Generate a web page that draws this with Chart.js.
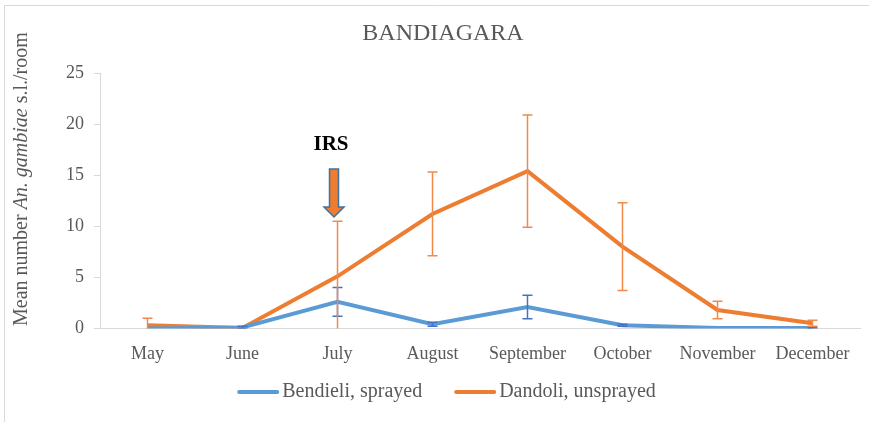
<!DOCTYPE html>
<html>
<head>
<meta charset="utf-8">
<script src="https://cdn.jsdelivr.net/npm/chart.js@4.4.1/dist/chart.umd.min.js"></script>
<style>
  html, body { margin: 0; padding: 0; background: #fff; }
  #wrap { position: relative; width: 869px; height: 422px; }
</style>
</head>
<body>
<div id="wrap"><canvas id="canvas" width="869" height="422"></canvas></div>
<script>
// months on the x axis
var months = ["May", "June", "July", "August", "September", "October", "November", "December"];

// mean number per room
var sprayed = [0.0, 0.1, 2.6, 0.4, 2.1, 0.3, 0.05, 0.05];
var unsprayed = [0.3, 0.05, 5.1, 11.2, 15.4, 8.0, 1.8, 0.5];

// error bar half-widths (+/-)
var sprayedErr = [0, 0.1, 1.4, 0.2, 1.15, 0.1, 0, 0.05];
var unsprayedErr = [0.7, 0, 5.4, 4.1, 5.5, 4.3, 0.85, 0.3];

var yTicks = [0, 5, 10, 15, 20, 25];

var serif = "'Liberation Serif', 'DejaVu Serif', serif";
var grey = "#595959";

// vertical error bars with caps
var errorBars = {
  id: 'errorBars',
  afterDatasetsDraw: function(chart) {
    var ctx = chart.ctx;
    var area = chart.chartArea;
    var x = chart.scales.x, y = chart.scales.y;
    ctx.save();
    ctx.beginPath();
    ctx.rect(area.left, area.top - 1, area.right - area.left, area.bottom - area.top + 1);
    ctx.clip();
    chart.data.datasets.forEach(function(ds) {
      ds.data.forEach(function(v, i) {
        var e = ds.errors[i];
        if (!e) return;
        var px = x.getPixelForValue(i);
        var top = y.getPixelForValue(v + e);
        var bot = y.getPixelForValue(v - e);
        ctx.strokeStyle = ds.errorColor;
        ctx.lineWidth = 1.5;
        ctx.beginPath();
        ctx.moveTo(px, top); ctx.lineTo(px, bot);
        ctx.moveTo(px - 5, top); ctx.lineTo(px + 5, top);
        ctx.moveTo(px - 5, bot); ctx.lineTo(px + 5, bot);
        ctx.stroke();
      });
    });
    ctx.restore();
  }
};

// frame, title, y-axis title (italic species name), legend and IRS arrow
var extras = {
  id: 'extras',
  beforeDraw: function(chart) {
    var ctx = chart.ctx;
    ctx.save();
    ctx.strokeStyle = "#d9d9d9";
    ctx.lineWidth = 1;
    ctx.beginPath();
    ctx.moveTo(4.5, chart.height);
    ctx.lineTo(4.5, 5.5);
    ctx.lineTo(chart.width, 5.5);
    ctx.stroke();
    ctx.restore();
  },
  afterDraw: function(chart) {
    var ctx = chart.ctx;
    var x = chart.scales.x, y = chart.scales.y;

    // title
    ctx.save();
    ctx.font = "24px " + serif;
    ctx.fillStyle = grey;
    ctx.textAlign = "center";
    ctx.textBaseline = "middle";
    ctx.fillText("BANDIAGARA", 443, 34);
    ctx.restore();

    // y-axis title
    var parts = [
      { t: "Mean number ", f: "20px " + serif },
      { t: "An. gambiae", f: "italic 20px " + serif },
      { t: " s.l./room", f: "20px " + serif }
    ];
    ctx.save();
    ctx.translate(27, 326);
    ctx.rotate(-Math.PI / 2);
    ctx.fillStyle = grey;
    ctx.textBaseline = "alphabetic";
    var pos = 0;
    parts.forEach(function(p) {
      ctx.font = p.f;
      ctx.fillText(p.t, pos, 0);
      pos += ctx.measureText(p.t).width;
    });
    ctx.restore();

    // legend
    ctx.save();
    ctx.font = "20px " + serif;
    ctx.textBaseline = "middle";
    var ly = 392, lineW = 42, gapText = 3, gapItem = 32;
    var items = chart.data.datasets.map(function(ds) {
      return { label: ds.label, color: ds.borderColor, w: lineW + gapText + ctx.measureText(ds.label).width };
    });
    var total = items.reduce(function(s, it) { return s + it.w; }, 0) + gapItem * (items.length - 1);
    var lx = 446.5 - total / 2;
    items.forEach(function(it) {
      ctx.strokeStyle = it.color;
      ctx.lineWidth = 4;
      ctx.lineCap = "round";
      ctx.beginPath();
      ctx.moveTo(lx + 2, ly); ctx.lineTo(lx + lineW - 2, ly);
      ctx.stroke();
      ctx.fillStyle = grey;
      ctx.fillText(it.label, lx + lineW + gapText, ly);
      lx += it.w + gapItem;
    });
    ctx.restore();

    // IRS arrow above July
    var ax = x.getPixelForValue(2) - 3.5;
    var tip = y.getPixelForValue(10.9);
    ctx.save();
    ctx.font = "bold 21px " + serif;
    ctx.fillStyle = "#000";
    ctx.textAlign = "center";
    ctx.textBaseline = "middle";
    ctx.fillText("IRS", ax - 3, tip - 72);
    ctx.beginPath();
    ctx.moveTo(ax - 4.5, tip - 48);
    ctx.lineTo(ax + 4.5, tip - 48);
    ctx.lineTo(ax + 4.5, tip - 10);
    ctx.lineTo(ax + 10, tip - 10);
    ctx.lineTo(ax, tip);
    ctx.lineTo(ax - 10, tip - 10);
    ctx.lineTo(ax - 4.5, tip - 10);
    ctx.closePath();
    ctx.fillStyle = "#ED7D31";
    ctx.fill();
    ctx.strokeStyle = "#41719C";
    ctx.lineWidth = 1.5;
    ctx.stroke();
    ctx.restore();
  }
};

var config = {
  type: 'line',
  data: {
    labels: months,
    datasets: [{
      label: "Bendieli, sprayed",
      data: sprayed,
      errors: sprayedErr,
      errorColor: "#4472C4",
      borderColor: "#5B9BD5",
      backgroundColor: "#5B9BD5",
      borderWidth: 4,
      pointRadius: 0,
      tension: 0
    }, {
      label: "Dandoli, unsprayed",
      data: unsprayed,
      errors: unsprayedErr,
      errorColor: "#F08A4B",
      borderColor: "#ED7D31",
      backgroundColor: "#ED7D31",
      borderWidth: 4,
      pointRadius: 0,
      tension: 0
    }]
  },
  options: {
    responsive: false,
    animation: false,
    layout: { padding: { left: 0, right: 9, top: 73, bottom: 42 } },
    plugins: {
      title: { display: false },
      legend: { display: false },
      tooltip: { enabled: false }
    },
    scales: {
      x: {
        offset: true,
        grid: { display: false, drawTicks: false },
        border: { display: true, color: "#d9d9d9", width: 1 },
        ticks: {
          color: grey,
          font: { family: serif, size: 18 },
          padding: 15,
          maxRotation: 0,
          autoSkip: false
        }
      },
      y: {
        min: 0,
        max: 25,
        afterFit: function(scale) { scale.width = 100; },
        afterBuildTicks: function(scale) {
          scale.ticks = yTicks.map(function(v) { return { value: v }; });
        },
        grid: { drawOnChartArea: false, drawTicks: true, tickLength: 6, color: "#d9d9d9" },
        border: { display: true, color: "#d9d9d9", width: 1 },
        ticks: {
          color: grey,
          font: { family: serif, size: 18 },
          padding: 10
        }
      }
    }
  },
  plugins: [errorBars, extras]
};

new Chart(document.getElementById("canvas"), config);
</script>
</body>
</html>
